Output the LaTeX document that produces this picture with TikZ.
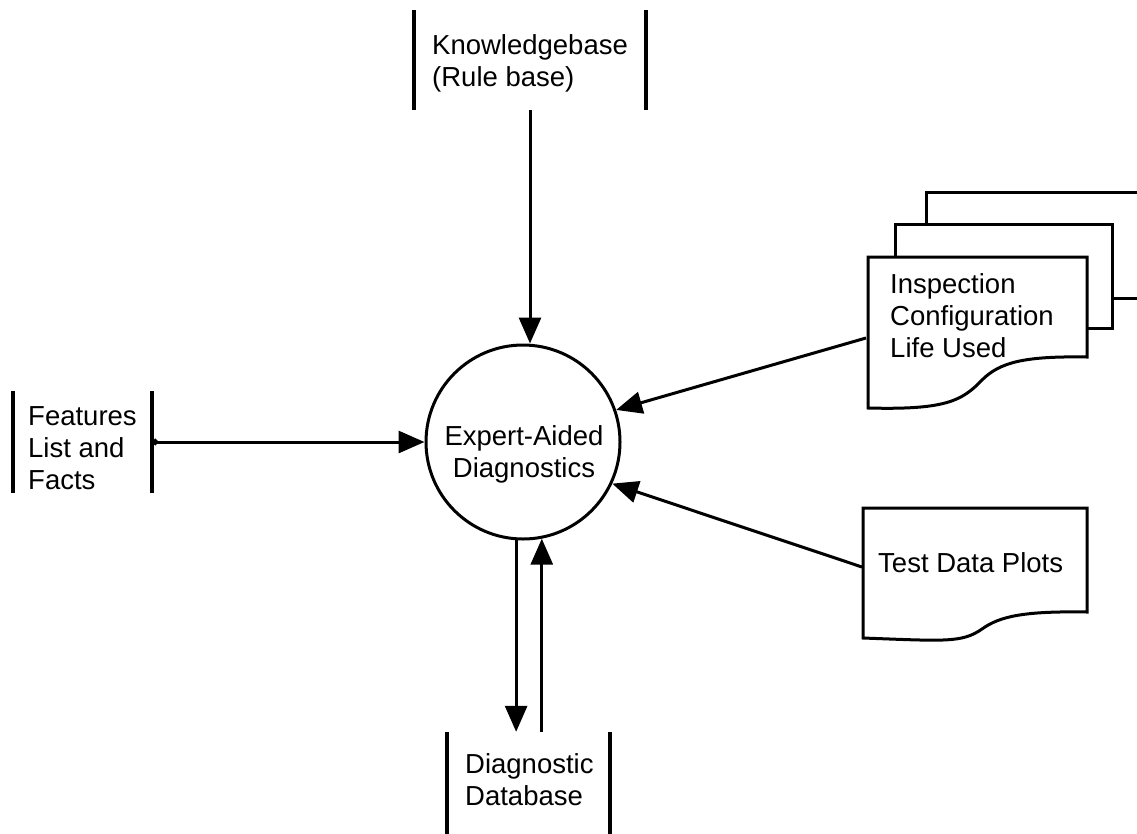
\documentclass[tikz,border=0pt]{standalone}
\usepackage{fontspec}
\setmainfont{Liberation Sans}
\usetikzlibrary{arrows.meta}
\begin{document}
\begin{tikzpicture}[x=1pt,y=-1pt,
  txt/.style={font=\fontsize{27.5}{32}\selectfont, inner sep=0pt, align=left},
  bar/.style={line width=4.5pt},
  flow/.style={line width=3pt, -{Triangle[length=26pt,width=22pt]}},
  doc/.style={line width=3pt, line join=miter},
  store/.style={inner sep=0pt, minimum width=#1},
]
\useasboundingbox (0,0) rectangle (1137,833);

% central process
\node[draw, circle, line width=3pt, minimum size=194pt, inner sep=0pt] (ead) at (523,442) {};
\node[txt, align=center, anchor=base] (eadtext) at (524,477) {Expert-Aided\\Diagnostics};

% Knowledgebase store
\node[store=232pt, minimum height=100pt] (kb) at (530,60) {};
\draw[bar] (kb.north west) -- (kb.south west);
\draw[bar] (kb.north east) -- (kb.south east);
\node[txt, anchor=base west] (kbtext) at (432,86) {Knowledgebase\\(Rule base)};

% Features store
\node[store=139pt, minimum height=101pt] (fl) at (82.5,442) {};
\draw[bar] (fl.north west) -- (fl.south west);
\draw[bar] (fl.north east) -- (fl.south east);
\node[txt, anchor=base west] (fltext) at (28,489) {Features\\List and\\Facts};

% Diagnostic database store
\node[store=163pt, minimum height=116pt] (db) at (528.5,790) {};
\draw[bar] (db.north west) -- (db.south west);
\draw[bar] (db.north east) -- (db.south east);
\node[txt, anchor=base west] (dbtext) at (465,805) {Diagnostic\\Database};

% Inspection document stack
\draw[doc] (926,223) -- (926,192) -- (1140,192);
\draw[doc] (1113,298) -- (1140,298);
\draw[doc] (895,257) -- (895,224) -- (1112,224) -- (1112,328) -- (1087,328);
\draw[doc] (868,408) -- (868,257) -- (1087,257) -- (1087,357)
  .. controls (1025,356) and (1000,362) .. (982,380)
  .. controls (962,401) and (945,410) .. (868,408) -- cycle;
\node[txt, anchor=base west] (insptext) at (890,357) {Inspection\\Configuration\\Life Used};
\coordinate (insp) at (866,338);

% Test data plots document
\draw[doc] (863,638) -- (863,508) -- (1087,508) -- (1087,612)
  .. controls (1025,611) and (1000,616) .. (982,629)
  .. controls (962,643) and (945,641) .. (863,638) -- cycle;
\node[txt, anchor=base west] (tdptext) at (878,572) {Test Data Plots};
\coordinate (tdp) at (862,567);

% flows
\draw[flow] (kb.south) -- (kb.south |- ead.north);
\draw[line width=3pt, {Circle[length=6pt]}-{Triangle[length=26pt,width=22pt]}] (fl.east) -- (ead.west);
\draw[flow] (insp) -- (ead.19);
\draw[flow] (tdp) -- (ead.-25);
\draw[flow] (ead.266.5) -- (ead.266.5 |- db.north);
\draw[flow] (ead.281 |- db.north) -- (ead.281);
\end{tikzpicture}
\end{document}
